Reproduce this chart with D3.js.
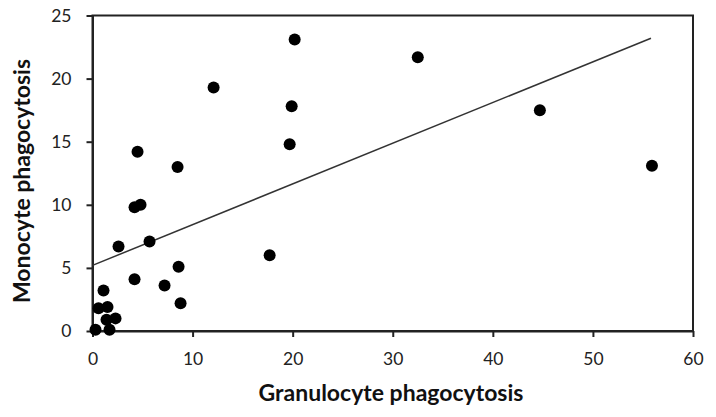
<!DOCTYPE html>
<html>
<head>
<meta charset="utf-8">
<script src="https://cdn.jsdelivr.net/npm/d3@7"></script>
<style>
  body { margin: 0; background: #fff; }
  text { font-family: Lato, "Liberation Sans", sans-serif; }
</style>
</head>
<body>
<div id="chart"></div>
<script>
// Chart size
var width = 716;
var height = 417;

// Data
var granulocyte = [0.3, 0.6, 1.1, 1.5, 1.4, 1.7, 2.3, 2.6, 4.2, 4.8, 4.2, 4.5, 5.7, 7.2,
                   8.6, 8.8, 8.5, 12.1, 17.7, 19.7, 19.9, 20.2, 32.5, 44.7, 55.9];
var monocyte = [0.1, 1.8, 3.2, 1.9, 0.9, 0.1, 1.0, 6.7, 9.8, 10.0, 4.1, 14.2, 7.1, 3.6,
                5.1, 2.2, 13.0, 19.3, 6.0, 14.8, 17.8, 23.1, 21.7, 17.5, 13.1];

// Trend line end points
var trendX = [0, 55.8];
var trendY = [5.2, 23.2];

var xTicks = [0, 10, 20, 30, 40, 50, 60];
var yTicks = [0, 5, 10, 15, 20, 25];

var margin = { left: 92.5, right: 23, top: 15.5, bottom: 86 };

function createSVG() {
    return d3.select("#chart")
        .append("svg")
        .attr("width", width)
        .attr("height", height);
}

function main() {
    var svg = createSVG();
    var x = d3.scaleLinear().domain([0, 60]).range([margin.left, width - margin.right]);
    var y = d3.scaleLinear().domain([0, 25]).range([height - margin.bottom, margin.top]);

    // Frame around the plot area
    svg.append("rect")
        .attr("x", x(0))
        .attr("y", y(25))
        .attr("width", x(60) - x(0))
        .attr("height", y(0) - y(25))
        .style("fill", "none")
        .style("stroke", "#222")
        .style("stroke-width", 2);

    // Axes
    var xAxis = svg.append("g")
        .attr("transform", "translate(0," + y(0) + ")")
        .call(d3.axisBottom(x).tickValues(xTicks).tickSize(6).tickSizeOuter(0).tickPadding(16));
    var yAxis = svg.append("g")
        .attr("transform", "translate(" + x(0) + ",0)")
        .call(d3.axisLeft(y).tickValues(yTicks).tickSize(6).tickSizeOuter(0).tickPadding(15));

    [xAxis, yAxis].forEach(function(a) {
        a.select(".domain").style("stroke", "#222").style("stroke-width", 2);
        a.selectAll(".tick line").style("stroke", "#222").style("stroke-width", 2);
        a.selectAll(".tick text")
            .style("font-size", "17.5px")
            .style("fill", "#222")
            .style("font-family", "Lato, 'Liberation Sans', sans-serif");
    });

    // Trend line
    var line = d3.line()
        .x(function(d) { return x(d[0]); })
        .y(function(d) { return y(d[1]); });
    svg.append("path")
        .datum(d3.zip(trendX, trendY))
        .attr("d", line)
        .style("fill", "none")
        .style("stroke", "#333")
        .style("stroke-width", 1.5);

    // Points
    svg.selectAll("circle")
        .data(d3.zip(granulocyte, monocyte))
        .enter()
        .append("circle")
        .attr("cx", function(d) { return x(d[0]); })
        .attr("cy", function(d) { return y(d[1]); })
        .attr("r", 6)
        .style("fill", "#000");

    // Axis titles
    svg.append("text")
        .attr("x", 391)
        .attr("y", 401)
        .attr("text-anchor", "middle")
        .style("font-size", "23px")
        .style("font-weight", "bold")
        .style("fill", "#111")
        .text("Granulocyte phagocytosis");

    svg.append("text")
        .attr("transform", "translate(30,181) rotate(-90)")
        .attr("text-anchor", "middle")
        .style("font-size", "23px")
        .style("font-weight", "bold")
        .style("fill", "#111")
        .text("Monocyte phagocytosis");
}

window.onload = function() {
    main();
};
</script>
</body>
</html>
